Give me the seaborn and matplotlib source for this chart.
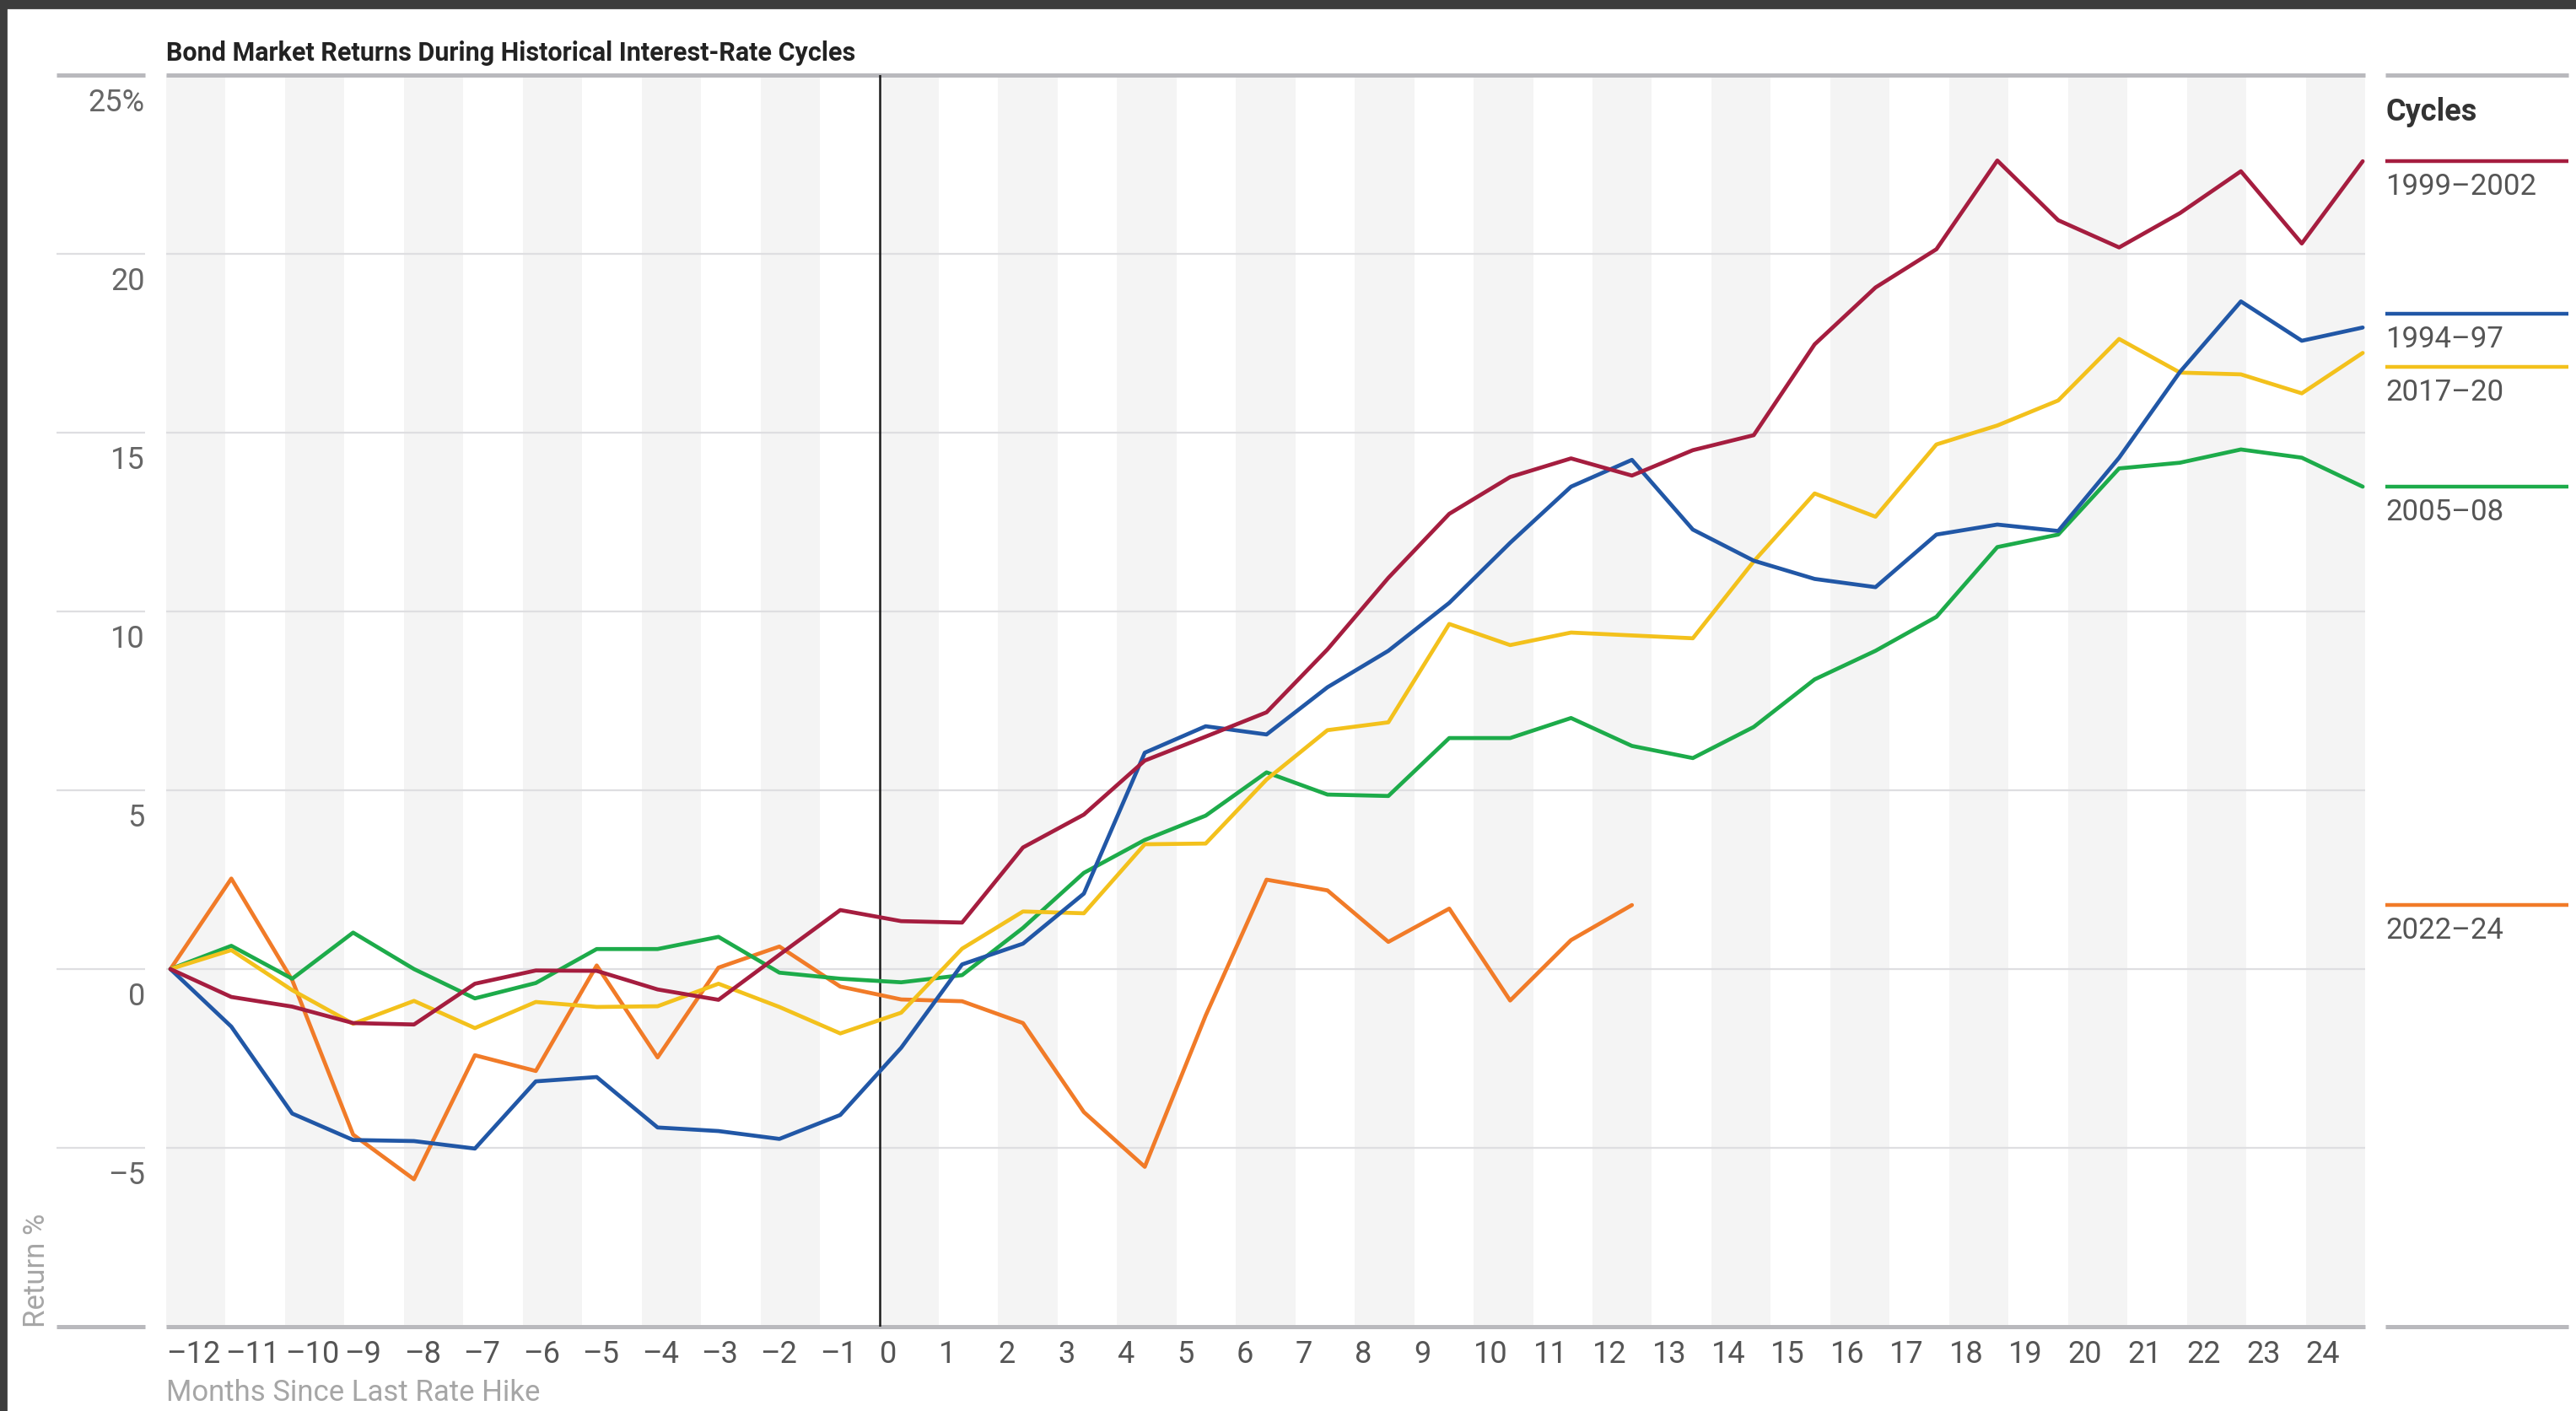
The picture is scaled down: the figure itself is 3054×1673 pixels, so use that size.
import numpy as np
import pandas as pd
import matplotlib
matplotlib.use("Agg")
import matplotlib.pyplot as plt
import matplotlib.transforms as mtransforms
from matplotlib.patches import Rectangle
import seaborn as sns

# %% data
months = list(range(-12, 25))

ret_1999_2002 = [0, -0.78, -1.05, -1.51, -1.55, -0.41, -0.04, -0.05, -0.57, -0.86, 0.40, 1.65,
                 1.34, 1.30, 3.40, 4.32, 5.83, 6.50, 7.18, 8.94, 10.94, 12.73, 13.76, 14.28,
                 13.80, 14.51, 14.93, 17.47, 19.06, 20.13, 22.61, 20.94, 20.18, 21.14, 22.31, 20.29, 22.59]
ret_1994_97 = [0, -1.61, -4.04, -4.78, -4.81, -5.02, -3.14, -3.02, -4.43, -4.53, -4.75, -4.08,
               -2.20, 0.13, 0.71, 2.11, 6.05, 6.79, 6.56, 7.88, 8.90, 10.24, 11.92, 13.49,
               14.24, 12.29, 11.42, 10.91, 10.68, 12.15, 12.43, 12.25, 14.30, 16.70, 18.67, 17.57, 17.94]
ret_2017_20 = [0, 0.53, -0.59, -1.53, -0.89, -1.65, -0.92, -1.06, -1.04, -0.41, -1.06, -1.80,
               -1.22, 0.57, 1.61, 1.56, 3.49, 3.51, 5.30, 6.68, 6.90, 9.65, 9.06, 9.41,
               9.33, 9.25, 11.40, 13.30, 12.65, 14.67, 15.20, 15.90, 17.62, 16.68, 16.63, 16.10, 17.23]
ret_2005_08 = [0, 0.65, -0.27, 1.02, 0.0, -0.82, -0.39, 0.56, 0.56, 0.90, -0.10, -0.27,
               -0.37, -0.17, 1.15, 2.69, 3.61, 4.29, 5.50, 4.88, 4.84, 6.46, 6.46, 7.02,
               6.24, 5.90, 6.77, 8.10, 8.90, 9.85, 11.80, 12.15, 14.00, 14.16, 14.53, 14.30, 13.49]
ret_2022_24 = [0, 2.53, -0.31, -4.63, -5.88, -2.41, -2.85, 0.10, -2.47, 0.04, 0.63, -0.49,
               -0.85, -0.90, -1.51, -4.00, -5.53, -1.30, 2.50, 2.20, 0.76, 1.69, -0.88, 0.81, 1.79]

cycles = ["1999\u20132002", "1994\u201397", "2017\u201320", "2005\u201308", "2022\u201324"]
series = [ret_1999_2002, ret_1994_97, ret_2017_20, ret_2005_08, ret_2022_24]
colors = ["#a51d3f", "#2157a6", "#f3c11c", "#1dab4a", "#f17b28"]

yticks = [25, 20, 15, 10, 5, 0, -5, -10]
ytick_labels = ["25%", "20", "15", "10", "5", "0", "\u20135", ""]
xtick_labels = [str(m).replace("-", "\u2013") for m in months]

rows = []
for name, vals in zip(cycles, series):
    for m, v in zip(months, vals):
        rows.append({"month": m, "ret": v, "cycle": name})
df = pd.DataFrame(rows)

# %% style
sns.set_style("white")
plt.rcParams["font.family"] = ["Roboto", "DejaVu Sans"]

W, H, DPI = 3054, 1674, 200
fig = plt.figure(figsize=(W / DPI, H / DPI), dpi=DPI)
fig.patch.set_facecolor("white")
ax = fig.add_axes([197 / W, 1 - 1574 / H, (2804 - 197) / W, (1574 - 90) / H])

xmin, xmax = -12.07, 24.04
ax.set_xlim(xmin, xmax)
ax.set_ylim(-10, 25)

# alternating month bands
edges = np.linspace(xmin, xmax, len(months) + 1)
for i in range(len(months)):
    if i % 2 == 0:
        ax.axvspan(edges[i], edges[i + 1], color="#f4f4f4", lw=0, zorder=0)

# horizontal grid, with stubs reaching into the left margin
ytrans = ax.get_yaxis_transform()
for v in yticks:
    edge = v in (25, -10)
    col = "#b9b9bd" if edge else "#dedee1"
    lw = 1.8 if edge else 0.8
    ax.hlines(v, 0, 1, transform=ytrans, color=col, lw=lw, zorder=1, clip_on=False)
    ax.hlines(v, -0.0499, -0.0096, transform=ytrans, color=col, lw=lw, zorder=1, clip_on=False)
    if edge:
        ax.hlines(v, 1.0092, 1.0925, transform=ytrans, color=col, lw=lw, zorder=1, clip_on=False)

lab_tr = mtransforms.offset_copy(ytrans, fig=fig, x=0, y=-14, units="dots")
for v, lab in zip(yticks, ytick_labels):
    ax.text(-0.0096, v, lab, transform=lab_tr, ha="right", va="top", fontsize=13, color="#666666")

# last rate hike marker
ax.axvline(edges[12], color="#1a1a1a", lw=0.9, zorder=2)

# lines
hue_order = cycles[::-1]
palette = dict(zip(cycles, colors))
sns.lineplot(data=df, x="month", y="ret", hue="cycle", hue_order=hue_order, palette=palette,
             linewidth=1.7, legend=False, errorbar=None, ax=ax, zorder=3)

# right-hand legend at the series' end values, nudged apart
ends = {name: vals[-1] for name, vals in zip(cycles, series)}
order = sorted(cycles, key=lambda c: -ends[c])
pos = [ends[c] for c in order]
min_gap = 1.48
for _ in range(20):
    for i in range(len(pos) - 1):
        gap = pos[i] - pos[i + 1]
        if gap < min_gap:
            mid = (pos[i] + pos[i + 1]) / 2
            pos[i], pos[i + 1] = mid + min_gap / 2, mid - min_gap / 2

leg_tr = mtransforms.offset_copy(ytrans, fig=fig, x=0, y=-13, units="dots")
for name, yv in zip(order, pos):
    ax.hlines(yv, 1.0092, 1.0925, transform=ytrans, color=palette[name], lw=1.6, clip_on=False)
    ax.text(1.0092, yv, name, transform=leg_tr, ha="left", va="top", fontsize=12.5, color="#555555")

fig.text(2828 / W, 1 - 133 / H, "Cycles", ha="left", va="center", fontsize=13,
         fontweight="bold", color="#333333")

# axes cosmetics
sns.despine(ax=ax, left=True, bottom=True)
ax.set_yticks([])
ax.set_xticks(edges[:-1])
ax.set_xticklabels(xtick_labels, fontsize=13, color="#555555")
for t in ax.get_xticklabels():
    t.set_ha("left")
ax.tick_params(axis="x", length=0, pad=5)
ax.set_xlabel("")
ax.set_ylabel("")

ax.text(-0.059, 0, "Return %", transform=ax.transAxes, rotation=90, ha="center", va="bottom",
        fontsize=12.5, color="#a6a6a6")
fig.text(197 / W, 1 - 1652 / H, "Months Since Last Rate Hike", ha="left", va="center",
         fontsize=12.5, color="#a6a6a6")
fig.text(197 / W, 1 - 63 / H, "Bond Market Returns During Historical Interest-Rate Cycles",
         ha="left", va="center", fontsize=11, fontweight="bold", color="#222222")

# screenshot frame
fig.patches.append(Rectangle((0, 1 - 10 / H), 1, 10 / H, transform=fig.transFigure,
                             color="#3d3d3d", zorder=10))
fig.patches.append(Rectangle((0, 0), 7 / W, 1, transform=fig.transFigure,
                             color="#3d3d3d", zorder=10))

fig.savefig("out.png", dpi=DPI)
